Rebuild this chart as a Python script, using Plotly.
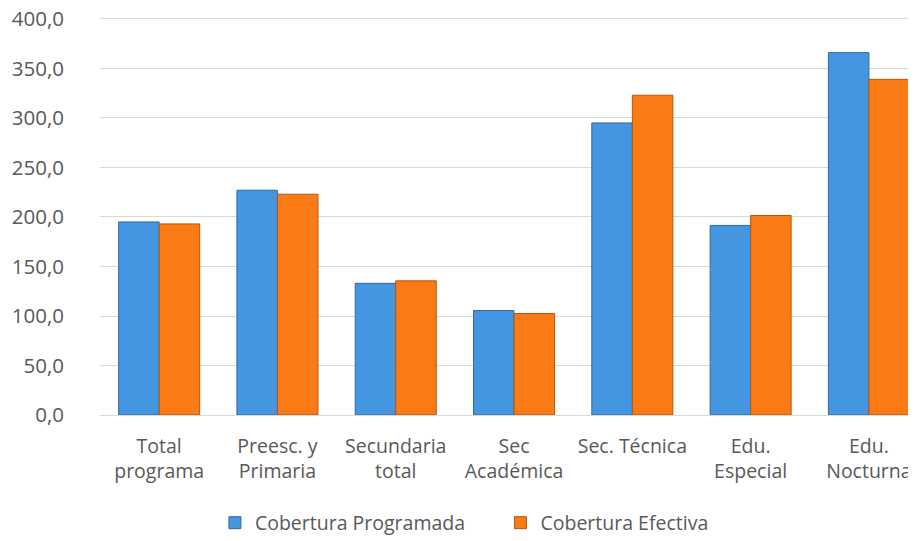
import plotly.graph_objects as go

categories = ["Total<br>programa", "Preesc. y<br>Primaria", "Secundaria<br>total", "Sec<br>Académica",
              "Sec. Técnica<br> ", "Edu.<br>Especial", "Edu.<br>Nocturna"]
programada = [195.0, 227.0, 133.0, 105.5, 295.0, 191.5, 366.0]
efectiva = [193.0, 223.0, 135.5, 102.5, 323.0, 201.5, 339.0]
y_ticks = [0, 50, 100, 150, 200, 250, 300, 350, 400]
series_names = ["Cobertura Programada" + "\u00a0" * 6, "Cobertura Efectiva"]

fig = go.Figure()
fig.add_trace(go.Bar(x=categories, y=programada, name=series_names[0],
                     marker=dict(color="#4596e0", line=dict(color="#2d6aa8", width=1))))
fig.add_trace(go.Bar(x=categories, y=efectiva, name=series_names[1],
                     marker=dict(color="#fa7a15", line=dict(color="#b5560c", width=1))))

fig.update_layout(
    width=908, height=533,
    margin=dict(l=92, r=0, t=9, b=126, autoexpand=False),
    paper_bgcolor="white", plot_bgcolor="white",
    barmode="group", bargap=0.315, bargroupgap=0,
    separators=",.",
    font=dict(family="Open Sans, sans-serif", size=20, color="#595959"),
    showlegend=True,
    legend=dict(orientation="h", x=0.4466, xanchor="center", y=-0.2714, yanchor="middle",
                font=dict(size=19.5, color="#595959"), itemwidth=30, traceorder="normal",
                tracegroupgap=0),
    xaxis=dict(range=[-0.5, 6.398], showgrid=False, showline=False, ticks="", tickangle=0,
               automargin=False, ticklabelstandoff=17, ticklabeloverflow="allow",
               tickfont=dict(size=19.5, color="#595959")),
    yaxis=dict(range=[0, 402], tickvals=y_ticks, tickformat=".1f", automargin=False,
               showgrid=True, gridcolor="#d9d9d9", gridwidth=1.3,
               zeroline=True, zerolinecolor="#d9d9d9", zerolinewidth=1.3,
               ticks="", ticklabelstandoff=35, ticklabeloverflow="allow",
               tickfont=dict(size=20.5, color="#595959")),
)

fig.write_html("out.html")
